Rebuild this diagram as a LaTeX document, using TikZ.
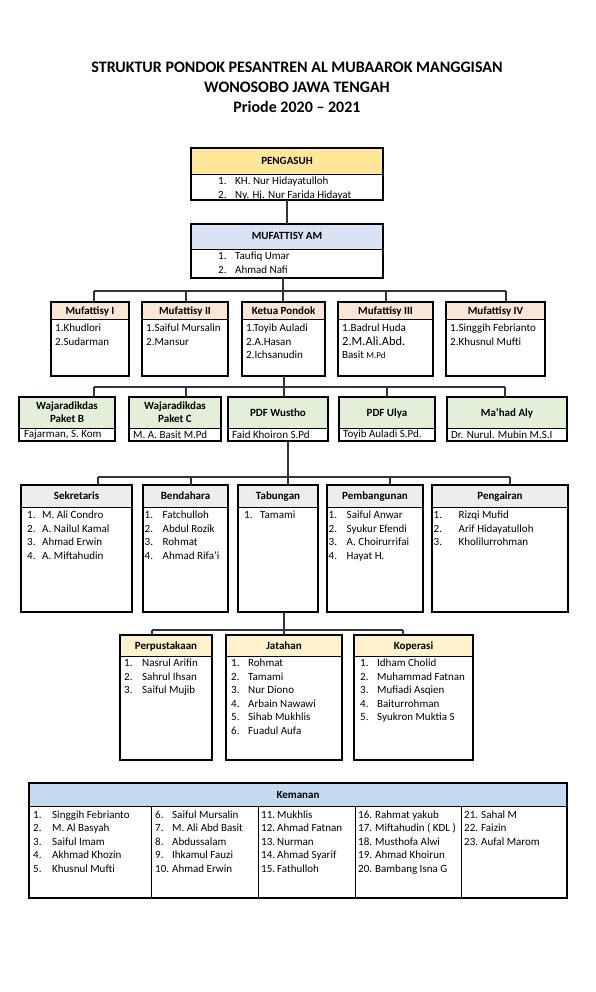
\documentclass[tikz,border=0pt]{standalone}
\usepackage{fontspec}
\setmainfont{Carlito}
\usetikzlibrary{positioning, calc}

\definecolor{kuning}{HTML}{FFE699}
\definecolor{biru}{HTML}{DAE3F3}
\definecolor{peach}{HTML}{FBE5D6}
\definecolor{hijau}{HTML}{E2F0D9}
\definecolor{abu}{HTML}{EDEDED}
\definecolor{krem}{HTML}{FFF2CC}
\definecolor{birutua}{HTML}{C5D9F1}

\begin{document}
\begin{tikzpicture}[x=1pt, y=-1pt,
    hdr/.style={draw, line width=0.6pt, inner sep=0pt, outer sep=0pt, anchor=north west, align=center,
        text height=8pt, text depth=1pt, font=\bfseries\fontsize{11}{13}\selectfont},
    hdrdua/.style={draw, line width=0.6pt, inner sep=0pt, outer sep=0pt, anchor=north west, align=center,
        font=\bfseries\fontsize{11}{13}\selectfont},
    bdy/.style={draw, line width=0.6pt, inner sep=0pt, outer sep=0pt, anchor=north west},
    isi/.style={inner sep=0pt, anchor=north west, font=\fontsize{11}{13.5}\selectfont},
    satu/.style={inner sep=0pt, anchor=west, font=\fontsize{11}{12}\selectfont},
    bingkai/.style={draw, line width=1.6pt},
    garis/.style={draw=black!80, line width=1.2pt}]

        \useasboundingbox[fill=white] (0,0) rectangle (595,992);

        % JUDUL
        \node[font=\bfseries\fontsize{16}{20}\selectfont, align=center] (judul) at (297,87)
            {STRUKTUR PONDOK PESANTREN AL MUBAAROK MANGGISAN\\WONOSOBO JAWA TENGAH\\Priode 2020 – 2021};

        % PENGASUH
        \node[hdr, fill=kuning, minimum width=192pt, minimum height=26pt] (pengH) at (191,148) {PENGASUH};
        \node[bdy, minimum width=192pt, minimum height=26pt] (pengB) at (pengH.south west) {};
        \node[isi] (pengT) at ([shift={(27,1)}]pengB.north west)
            {\begin{tabular}{@{}p{17pt}@{}l@{}}1. & KH. Nur Hidayatulloh\\ 2. & Ny. Hj. Nur Farida Hidayat\end{tabular}};
        \draw[bingkai] (pengH.north west) rectangle (pengB.south east);

        % MUFATTISY AM
        \node[hdr, fill=biru, minimum width=192pt, minimum height=25pt] (amH) at (191,224) {MUFATTISY AM};
        \node[bdy, minimum width=192pt, minimum height=29pt] (amB) at (amH.south west) {};
        \node[isi] (amT) at ([shift={(27,1)}]amB.north west)
            {\begin{tabular}{@{}p{17pt}@{}l@{}}1. & Taufiq Umar\\ 2. & Ahmad Nafi\end{tabular}};
        \draw[bingkai] (amH.north west) rectangle (amB.south east);
        \draw[garis] (pengB.south) -- (amH.north);

        % MUFATTISY I - IV, KETUA PONDOK
        \node[hdr, fill=peach, minimum width=78pt, minimum height=17pt] (m1H) at (51,302) {Mufattisy I};
        \node[bdy, minimum width=78pt, minimum height=57pt] (m1B) at (m1H.south west) {};
        \node[isi] (m1T) at ([shift={(4,3)}]m1B.north west)
            {\begin{tabular}{@{}l@{}}1.Khudlori\\2.Sudarman\end{tabular}};
        \draw[bingkai] (m1H.north west) rectangle (m1B.south east);

        \node[hdr, fill=peach, minimum width=86pt, minimum height=17pt] (m2H) at (142,302) {Mufattisy II};
        \node[bdy, minimum width=86pt, minimum height=57pt] (m2B) at (m2H.south west) {};
        \node[isi] (m2T) at ([shift={(4,3)}]m2B.north west)
            {\begin{tabular}{@{}l@{}}1.Saiful Mursalin\\2.Mansur\end{tabular}};
        \draw[bingkai] (m2H.north west) rectangle (m2B.south east);

        \node[hdr, fill=peach, minimum width=83pt, minimum height=17pt] (kpH) at (242,302) {Ketua Pondok};
        \node[bdy, minimum width=83pt, minimum height=57pt] (kpB) at (kpH.south west) {};
        \node[isi] (kpT) at ([shift={(4,3)}]kpB.north west)
            {\begin{tabular}{@{}l@{}}1.Toyib Auladi\\2.A.Hasan\\2.Ichsanudin\end{tabular}};
        \draw[bingkai] (kpH.north west) rectangle (kpB.south east);

        \node[hdr, fill=peach, minimum width=95pt, minimum height=17pt] (m3H) at (338,302) {Mufattisy III};
        \node[bdy, minimum width=95pt, minimum height=57pt] (m3B) at (m3H.south west) {};
        \node[isi] (m3T) at ([shift={(4,3)}]m3B.north west)
            {\begin{tabular}{@{}l@{}}1.Badrul Huda\\{\fontsize{12.5}{13.5}\selectfont 2.M.Ali.Abd.}\\Basit {\fontsize{9}{13.5}\selectfont M.Pd}\end{tabular}};
        \draw[bingkai] (m3H.north west) rectangle (m3B.south east);

        \node[hdr, fill=peach, minimum width=99pt, minimum height=17pt] (m4H) at (446,302) {Mufattisy IV};
        \node[bdy, minimum width=99pt, minimum height=57pt] (m4B) at (m4H.south west) {};
        \node[isi] (m4T) at ([shift={(4,3)}]m4B.north west)
            {\begin{tabular}{@{}l@{}}1.Singgih Febrianto\\2.Khusnul Mufti\end{tabular}};
        \draw[bingkai] (m4H.north west) rectangle (m4B.south east);

        \coordinate (b1) at (94,291);
        \coordinate (b2) at (186,291);
        \coordinate (b3) at (283,291);
        \coordinate (b4) at (386,291);
        \coordinate (b5) at (506,291);
        \draw[garis] (amB.south -| b3) -- (b3);
        \draw[garis] (b1) -- (b5);
        \draw[garis] (b1) -- (b1 |- m1H.north);
        \draw[garis] (b2) -- (b2 |- m2H.north);
        \draw[garis] (b3) -- (b3 |- kpH.north);
        \draw[garis] (b4) -- (b4 |- m3H.north);
        \draw[garis] (b5) -- (b5 |- m4H.north);

        % WAJARADIKDAS, PDF, MA'HAD ALY
        \node[hdrdua, fill=hijau, minimum width=96pt, minimum height=31pt] (wbH) at (19,397) {Wajaradikdas\\Paket B};
        \node[bdy, minimum width=96pt, minimum height=13pt] (wbB) at (wbH.south west) {};
        \node[satu] (wbT) at ([xshift=5]wbB.west) {Fajarman, S. Kom};
        \draw[bingkai] (wbH.north west) rectangle (wbB.south east);

        \node[hdrdua, fill=hijau, minimum width=92pt, minimum height=31pt] (wcH) at (129,397) {Wajaradikdas\\Paket C};
        \node[bdy, minimum width=92pt, minimum height=13pt] (wcB) at (wcH.south west) {};
        \node[satu] (wcT) at ([xshift=4]wcB.west) {M. A. Basit M.Pd};
        \draw[bingkai] (wcH.north west) rectangle (wcB.south east);

        \node[hdr, fill=hijau, minimum width=100pt, minimum height=31pt] (pwH) at (228,397) {PDF Wustho};
        \node[bdy, minimum width=100pt, minimum height=13pt] (pwB) at (pwH.south west) {};
        \node[satu] (pwT) at ([xshift=4]pwB.west) {Faid Khoiron S.Pd};
        \draw[bingkai] (pwH.north west) rectangle (pwB.south east);

        \node[hdr, fill=hijau, minimum width=96pt, minimum height=31pt] (puH) at (339,397) {PDF Ulya};
        \node[bdy, minimum width=96pt, minimum height=13pt] (puB) at (puH.south west) {};
        \node[satu] (puT) at ([xshift=4]puB.west) {Toyib Auladi S.Pd.};
        \draw[bingkai] (puH.north west) rectangle (puB.south east);

        \node[hdr, fill=hijau, minimum width=120pt, minimum height=31pt] (maH) at (447,397) {Ma’had Aly};
        \node[bdy, minimum width=120pt, minimum height=13pt] (maB) at (maH.south west) {};
        \node[satu] (maT) at ([xshift=4]maB.west) {Dr. Nurul. Mubin M.S.I};
        \draw[bingkai] (maH.north west) rectangle (maB.south east);

        \coordinate (c1) at (94,387);
        \coordinate (c2) at (186,387);
        \coordinate (c3) at (284,387);
        \coordinate (c4) at (387,387);
        \coordinate (c5) at (505,387);
        \draw[garis] (kpB.south -| c3) -- (c3);
        \draw[garis] (c1) -- (c5);
        \draw[garis] (c1) -- (c1 |- wbH.north);
        \draw[garis] (c2) -- (c2 |- wcH.north);
        \draw[garis] (c3) -- (c3 |- pwH.north);
        \draw[garis] (c4) -- (c4 |- puH.north);
        \draw[garis] (c5) -- (c5 |- maH.north);

        % SEKRETARIS ... PENGAIRAN
        \node[hdr, fill=abu, minimum width=111pt, minimum height=22pt] (sekH) at (21,485) {Sekretaris};
        \node[bdy, minimum width=111pt, minimum height=105pt] (sekB) at (sekH.south west) {};
        \node[isi] (sekT) at ([shift={(6,2)}]sekB.north west)
            {\begin{tabular}{@{}p{15pt}@{}l@{}}1. & M. Ali Condro\\ 2. & A. Nailul Kamal\\ 3. & Ahmad Erwin\\ 4. & A. Miftahudin\end{tabular}};
        \draw[bingkai] (sekH.north west) rectangle (sekB.south east);

        \node[hdr, fill=abu, minimum width=85pt, minimum height=22pt] (benH) at (143,485) {Bendahara};
        \node[bdy, minimum width=85pt, minimum height=105pt] (benB) at (benH.south west) {};
        \node[isi] (benT) at ([shift={(1.5,2)}]benB.north west)
            {\begin{tabular}{@{}p{18pt}@{}l@{}}1. & Fatchulloh\\ 2. & Abdul Rozik\\ 3. & Rohmat\\ 4. & Ahmad Rifa’i\end{tabular}};
        \draw[bingkai] (benH.north west) rectangle (benB.south east);

        \node[hdr, fill=abu, minimum width=80pt, minimum height=22pt] (tabH) at (238,485) {Tabungan};
        \node[bdy, minimum width=80pt, minimum height=105pt] (tabB) at (tabH.south west) {};
        \node[isi] (tabT) at ([shift={(6,2)}]tabB.north west)
            {\begin{tabular}{@{}p{16pt}@{}l@{}}1. & Tamami\end{tabular}};
        \draw[bingkai] (tabH.north west) rectangle (tabB.south east);

        \node[hdr, fill=abu, minimum width=96pt, minimum height=22pt] (pemH) at (327,485) {Pembangunan};
        \node[bdy, minimum width=96pt, minimum height=105pt] (pemB) at (pemH.south west) {};
        \node[isi] (pemT) at ([shift={(1.5,2)}]pemB.north west)
            {\begin{tabular}{@{}p{18pt}@{}l@{}}1. & Saiful Anwar\\ 2. & Syukur Efendi\\ 3. & A. Choirurrifai\\ 4. & Hayat H.\end{tabular}};
        \draw[bingkai] (pemH.north west) rectangle (pemB.south east);

        \node[hdr, fill=abu, minimum width=136pt, minimum height=22pt] (penH) at (432,485) {Pengairan};
        \node[bdy, minimum width=136pt, minimum height=105pt] (penB) at (penH.south west) {};
        \node[isi] (penT) at ([shift={(1.5,2)}]penB.north west)
            {\begin{tabular}{@{}p{25pt}@{}l@{}}1. & Rizqi Mufid\\ 2. & Arif Hidayatulloh\\ 3. & Kholilurrohman\end{tabular}};
        \draw[bingkai] (penH.north west) rectangle (penB.south east);

        \coordinate (d1) at (98,477);
        \coordinate (d2) at (191,477);
        \coordinate (d3) at (288,477);
        \coordinate (d4) at (390,477);
        \coordinate (d5) at (510,477);
        \draw[garis] (pwB.south -| d3) -- (d3);
        \draw[garis] (d1) -- (d5);
        \draw[garis] (d1) -- (d1 |- sekH.north);
        \draw[garis] (d2) -- (d2 |- benH.north);
        \draw[garis] (d3) -- (d3 |- tabH.north);
        \draw[garis] (d4) -- (d4 |- pemH.north);
        \draw[garis] (d5) -- (d5 |- penH.north);

        % PERPUSTAKAAN, JATAHAN, KOPERASI
        \node[hdr, fill=krem, minimum width=92pt, minimum height=21pt] (perH) at (120,635) {Perpustakaan};
        \node[bdy, minimum width=92pt, minimum height=104pt] (perB) at (perH.south west) {};
        \node[isi] (perT) at ([shift={(4,1)}]perB.north west)
            {\begin{tabular}{@{}p{18pt}@{}l@{}}1. & Nasrul Arifin\\ 2. & Sahrul Ihsan\\ 3. & Saiful Mujib\end{tabular}};
        \draw[bingkai] (perH.north west) rectangle (perB.south east);

        \node[hdr, fill=krem, minimum width=116pt, minimum height=21pt] (jatH) at (226,635) {Jatahan};
        \node[bdy, minimum width=116pt, minimum height=104pt] (jatB) at (jatH.south west) {};
        \node[isi] (jatT) at ([shift={(5,1)}]jatB.north west)
            {\begin{tabular}{@{}p{17pt}@{}l@{}}1. & Rohmat\\ 2. & Tamami\\ 3. & Nur Diono\\ 4. & Arbain Nawawi\\ 5. & Sihab Mukhlis\\ 6. & Fuadul Aufa\end{tabular}};
        \draw[bingkai] (jatH.north west) rectangle (jatB.south east);

        \node[hdr, fill=krem, minimum width=119pt, minimum height=21pt] (kopH) at (354,635) {Koperasi};
        \node[bdy, minimum width=119pt, minimum height=104pt] (kopB) at (kopH.south west) {};
        \node[isi] (kopT) at ([shift={(6,1)}]kopB.north west)
            {\begin{tabular}{@{}p{17pt}@{}l@{}}1. & Idham Cholid\\ 2. & Muhammad Fatnan\\ 3. & Mufiadi Asqien\\ 4. & Baiturrohman\\ 5. & Syukron Muktia S\end{tabular}};
        \draw[bingkai] (kopH.north west) rectangle (kopB.south east);

        \coordinate (e1) at (152,630);
        \coordinate (e2) at (284,630);
        \coordinate (e3) at (403,630);
        \draw[garis] (tabB.south -| e2) -- (e2);
        \draw[garis] (e1) -- (e3);
        \draw[garis] (e1) -- (e1 |- perH.north);
        \draw[garis] (e2) -- (e2 |- jatH.north);
        \draw[garis] (e3) -- (e3 |- kopH.north);

        % KEMANAN
        \node[hdr, fill=birutua, minimum width=538pt, minimum height=23pt] (kemH) at (29,783) {Kemanan};
        \node[bdy, minimum width=122pt, minimum height=92pt] (k1) at (kemH.south west) {};
        \node[bdy, minimum width=107pt, minimum height=92pt] (k2) at (k1.north east) {};
        \node[bdy, minimum width=97pt, minimum height=92pt] (k3) at (k2.north east) {};
        \node[bdy, minimum width=106pt, minimum height=92pt] (k4) at (k3.north east) {};
        \node[bdy, minimum width=106pt, minimum height=92pt] (k5) at (k4.north east) {};
        \node[isi] (k1T) at ([shift={(4,2.5)}]k1.north west)
            {\begin{tabular}{@{}p{19pt}@{}l@{}}1. & Singgih Febrianto\\ 2. & M. Al Basyah\\ 3. & Saiful Imam\\ 4. & Akhmad Khozin\\ 5. & Khusnul Mufti\end{tabular}};
        \node[isi] (k2T) at ([shift={(4,2.5)}]k2.north west)
            {\begin{tabular}{@{}p{17pt}@{}l@{}}6. & Saiful Mursalin\\ 7. & M. Ali Abd Basit\\ 8. & Abdussalam\\ 9. & Ihkamul Fauzi\\ 10. & Ahmad Erwin\end{tabular}};
        \node[isi] (k3T) at ([shift={(3,2.5)}]k3.north west)
            {\begin{tabular}{@{}p{16pt}@{}l@{}}11. & Mukhlis\\ 12. & Ahmad Fatnan\\ 13. & Nurman\\ 14. & Ahmad Syarif\\ 15. & Fathulloh\end{tabular}};
        \node[isi] (k4T) at ([shift={(3,2.5)}]k4.north west)
            {\begin{tabular}{@{}p{17pt}@{}l@{}}16. & Rahmat yakub\\ 17. & Miftahudin ( KDL )\\ 18. & Musthofa Alwi\\ 19. & Ahmad Khoirun\\ 20. & Bambang Isna G\end{tabular}};
        \node[isi] (k5T) at ([shift={(3,2.5)}]k5.north west)
            {\begin{tabular}{@{}p{17pt}@{}l@{}}21. & Sahal M\\ 22. & Faizin\\ 23. & Aufal Marom\end{tabular}};
        \draw[bingkai] (kemH.north west) rectangle (k5.south east);

    \end{tikzpicture}
\end{document}
